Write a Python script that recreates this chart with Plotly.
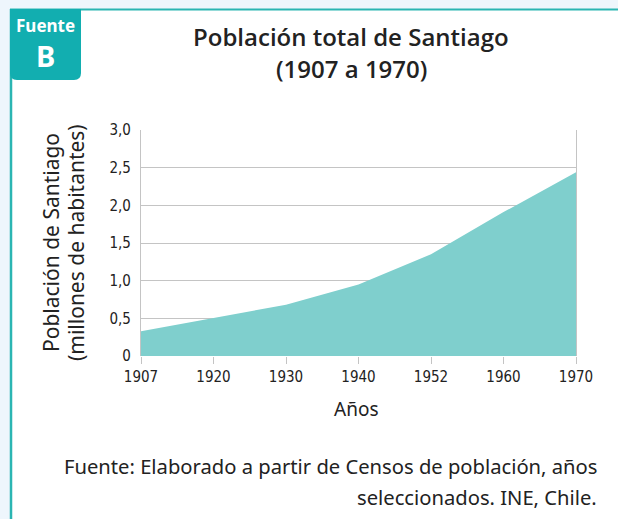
import plotly.graph_objects as go

# Census years (evenly spaced categories on the axis) and population in millions
years = ["1907", "1920", "1930", "1940", "1952", "1960", "1970"]
population = [0.33, 0.51, 0.68, 0.95, 1.35, 1.91, 2.44]

y_tick_vals = [0, 0.5, 1.0, 1.5, 2.0, 2.5, 3.0]
y_tick_text = ["0", "0,5", "1,0", "1,5", "2,0", "2,5", "3,0"]

W, H = 618, 519
ML, MR, MT, MB = 141, 42, 130, 163
PW, PH = W - ML - MR, H - MT - MB

TEAL = "#12aeb0"
FILL = "#7fcfcd"
GRID = "#c4c4c4"
TEXT = "#222222"
BODY_FONT = "Noto Sans, Open Sans, sans-serif"
TITLE_FONT = "Open Sans, Noto Sans, sans-serif"
NARROW_FONT = "Liberation Sans Narrow, DejaVu Sans Condensed, sans-serif"


def px(x):
    return (x - ML) / PW


def py(y):
    return (H - MB - y) / PH


fig = go.Figure()
fig.add_trace(go.Scatter(
    x=years, y=population, mode="lines", fill="tozeroy",
    fillcolor=FILL, line=dict(width=0, color=FILL), hoverinfo="skip",
))

shapes = [
    # white card with teal edge on top and left
    dict(type="rect", xref="paper", yref="paper", layer="below",
         x0=px(10), x1=px(W + 5), y0=py(H + 5), y1=py(9),
         fillcolor="white", line=dict(width=0)),
    dict(type="line", xref="paper", yref="paper", layer="below",
         x0=px(10), x1=px(W + 5), y0=py(9.5), y1=py(9.5),
         line=dict(color="#2bb5b2", width=2)),
    dict(type="line", xref="paper", yref="paper", layer="below",
         x0=px(11), x1=px(11), y0=py(9), y1=py(H + 5),
         line=dict(color="#2bb5b2", width=2.5)),
]

# badge with rounded bottom corners
bx0, bx1, by0, by1, r = 10, 81, 9, 80, 7
path = (f"M {px(bx0)},{py(by0)} L {px(bx1)},{py(by0)} "
        f"L {px(bx1)},{py(by1 - r)} "
        f"Q {px(bx1)},{py(by1)} {px(bx1 - r)},{py(by1)} "
        f"L {px(bx0 + r)},{py(by1)} "
        f"Q {px(bx0)},{py(by1)} {px(bx0)},{py(by1 - r)} Z")
shapes.append(dict(type="path", xref="paper", yref="paper", layer="below",
                   path=path, fillcolor=TEAL, line=dict(width=0)))


def label(text, x, y, size, color=TEXT, weight="normal", xanchor="center",
          angle=0, family=BODY_FONT):
    return dict(text=text, x=px(x), y=py(y), xref="paper", yref="paper",
                xanchor=xanchor, yanchor="middle", textangle=angle, showarrow=False,
                borderpad=0,
                font=dict(family=family, size=size, color=color, weight=weight))


annotations = [
    label("Fuente", 45.5, 25, 17, "white", "bold"),
    label("B", 45.5, 55.5, 29, "white", "bold"),
    label("Población total de Santiago", 351, 37, 24, weight=600, family=TITLE_FONT),
    label("(1907 a 1970)", 351, 69, 24, weight=600, family=TITLE_FONT),
    label("Población de Santiago", 51, 243, 21, angle=-90),
    label("(millones de habitantes)", 76, 243, 21, angle=-90),
    label("Años", 356, 409, 19),
    label("Fuente: Elaborado a partir de Censos de población, años", 598, 466, 20.2, xanchor="right"),
    label("seleccionados. INE, Chile.", 598, 497, 20.2, xanchor="right"),
]

fig.update_layout(
    width=W, height=H,
    margin=dict(l=ML, r=MR, t=MT, b=MB, pad=0),
    paper_bgcolor="#eef6fc", plot_bgcolor="rgba(0,0,0,0)",
    showlegend=False,
    shapes=shapes, annotations=annotations,
)
fig.update_xaxes(
    type="category", range=[0, 6], showgrid=False, zeroline=False,
    showline=False, ticks="outside", ticklen=7, tickcolor=GRID, tickwidth=1.3,
    tickfont=dict(family=NARROW_FONT, size=15, color=TEXT),
)
fig.update_yaxes(
    range=[0, 3.0], tickvals=y_tick_vals, ticktext=y_tick_text,
    showgrid=True, gridcolor=GRID, gridwidth=1.3, zeroline=False,
    showline=True, mirror=True, linecolor=GRID, linewidth=1.3,
    ticks="", ticklabelstandoff=6,
    tickfont=dict(family=NARROW_FONT, size=15, color=TEXT),
)

fig.write_html("out.html")
